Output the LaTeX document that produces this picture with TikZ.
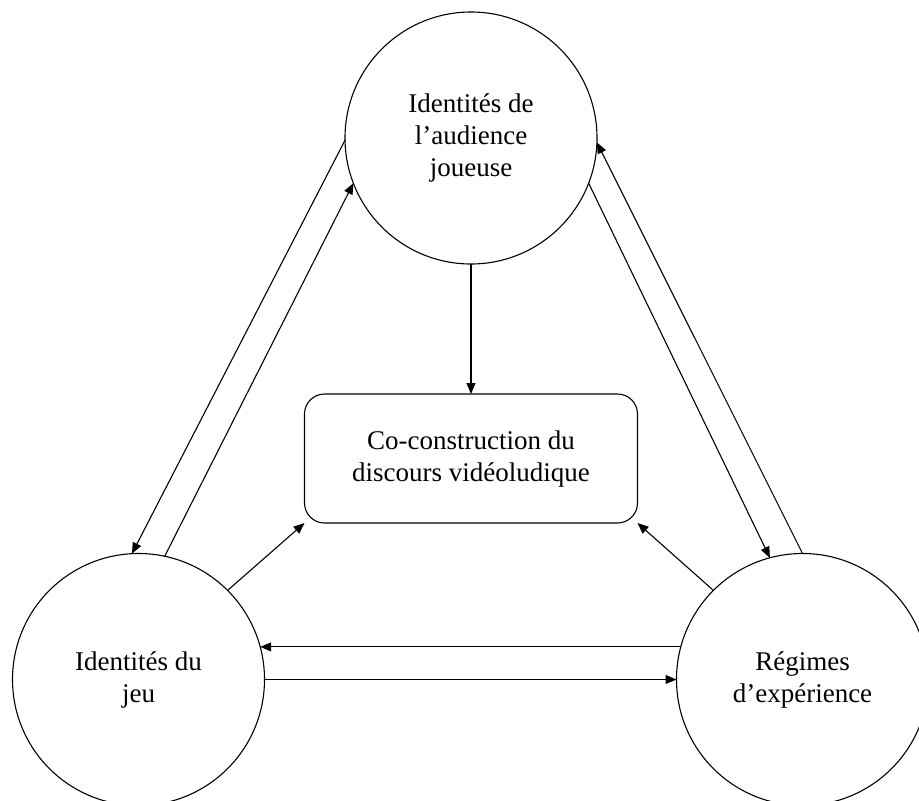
\documentclass[tikz,border=0pt]{standalone}
\usepackage{fontspec}
\setmainfont{Liberation Serif}
\usetikzlibrary{arrows.meta}
\begin{document}
\begin{tikzpicture}[x=1pt,y=-1pt,
  txt/.style={align=center,font=\fontsize{27}{32}\selectfont},
  bubble/.style={circle,draw,line width=1.1pt,minimum size=252pt,inner sep=0pt,outer sep=0pt,txt},
  box/.style={draw,rounded corners=20pt,line width=1.1pt,minimum width=333pt,minimum height=129pt,inner sep=0pt,outer sep=0pt,txt},
  link/.style={line width=1.1pt,-{Triangle[length=11pt,width=9pt]}}]
\useasboundingbox (0,0) rectangle (919,801);
\node[bubble] (top) at (471,138) {Identités de\\l’audience\\joueuse};
\node[bubble] (bl) at (138.5,679.5) {Identités du\\jeu};
\node[bubble] (br) at (802.5,679.5) {Régimes\\d’expérience};
\node[box] (rect) at (471,458.5) {Co-construction du\\discours vidéoludique};
\draw[link] (top.south) -- (rect.north);
\draw[link] (top.181) -- (bl.93);
\draw[link] (bl.78) -- (top.201.5);
\draw[link] (top.339) -- (br.105.3);
\draw[link] (br.90) -- (top.358);
\draw[link] (bl.45) -- (rect.south west);
\draw[link] (br.135) -- (rect.south east);
\draw[link] (br.165) -- (bl.15);
\draw[link] (bl.east) -- (br.west);
\end{tikzpicture}
\end{document}
